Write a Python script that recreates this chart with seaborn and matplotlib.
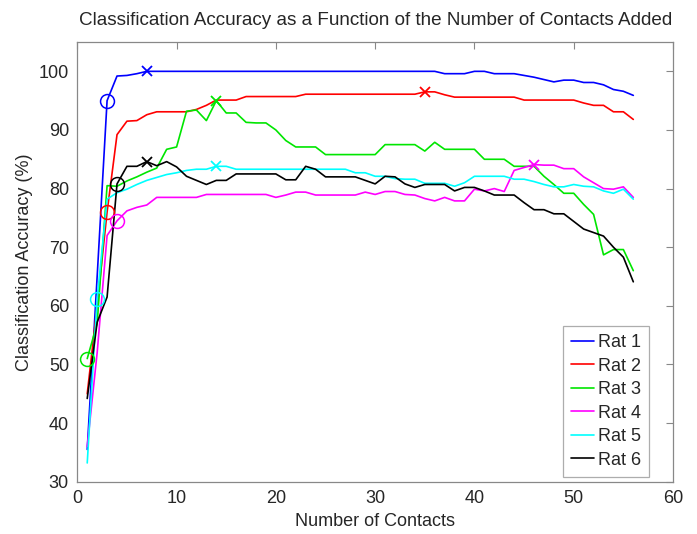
import numpy as np
import pandas as pd
import matplotlib
matplotlib.use("Agg")
import matplotlib.pyplot as plt
import seaborn as sns

# numero de contactos (1..56)
contacts = list(range(1, 57))

# precision de clasificacion (%) para cada rata
rat1 = [35.5, 65.0, 95.0, 99.2, 99.3, 99.6, 100, 100, 100, 100,
        100, 100, 100, 100, 100, 100, 100, 100, 100, 100,
        100, 100, 100, 100, 100, 100, 100, 100, 100, 100,
        100, 100, 100, 100, 100, 100, 99.6, 99.6, 99.6, 100,
        100, 99.6, 99.6, 99.6, 99.3, 99.0, 98.6, 98.2, 98.5, 98.5,
        98.1, 98.1, 97.7, 96.9, 96.6, 95.9]
rat2 = [45.0, 60.0, 76.0, 89.2, 91.5, 91.6, 92.6, 93.1, 93.1, 93.1,
        93.1, 93.5, 94.2, 95.1, 95.1, 95.1, 95.7, 95.7, 95.7, 95.7,
        95.7, 95.7, 96.1, 96.1, 96.1, 96.1, 96.1, 96.1, 96.1, 96.1,
        96.1, 96.1, 96.1, 96.1, 96.5, 96.5, 96.0, 95.6, 95.6, 95.6,
        95.6, 95.6, 95.6, 95.6, 95.1, 95.1, 95.1, 95.1, 95.1, 95.1,
        94.6, 94.2, 94.2, 93.1, 93.1, 91.8]
rat3 = [51.0, 57.0, 80.5, 80.4, 81.3, 82.0, 82.8, 83.5, 86.7, 87.1,
        93.2, 93.4, 91.6, 95.0, 92.9, 92.9, 91.3, 91.2, 91.2, 90.0,
        88.2, 87.1, 87.1, 87.1, 85.8, 85.8, 85.8, 85.8, 85.8, 85.8,
        87.5, 87.5, 87.5, 87.5, 86.4, 87.9, 86.7, 86.7, 86.7, 86.7,
        85.0, 85.0, 85.0, 83.8, 83.8, 83.8, 82.1, 80.7, 79.2, 79.2,
        77.3, 75.6, 68.7, 69.6, 69.6, 66.0]
rat4 = [36.0, 52.0, 72.0, 74.5, 76.2, 76.8, 77.2, 78.5, 78.5, 78.5,
        78.5, 78.5, 79.0, 79.0, 79.0, 79.0, 79.0, 79.0, 79.0, 78.5,
        78.9, 79.4, 79.4, 78.9, 78.9, 78.9, 78.9, 78.9, 79.4, 79.0,
        79.5, 79.5, 79.0, 78.9, 78.3, 77.9, 78.5, 77.9, 77.9, 79.9,
        79.6, 80.0, 79.5, 83.1, 83.6, 84.1, 84.0, 84.0, 83.4, 83.4,
        82.0, 81.0, 80.0, 79.9, 80.3, 78.5]
rat5 = [33.2, 61.2, 78.2, 79.3, 79.9, 80.7, 81.4, 81.9, 82.4, 82.7,
        83.1, 83.3, 83.3, 83.8, 83.8, 83.3, 83.3, 83.3, 83.3, 83.3,
        83.3, 83.3, 83.3, 83.3, 83.3, 83.3, 83.3, 82.7, 82.7, 82.1,
        82.1, 81.7, 81.6, 81.6, 80.9, 80.9, 80.9, 80.4, 81.0, 82.1,
        82.1, 82.1, 82.1, 81.6, 81.6, 81.2, 80.7, 80.3, 80.3, 80.7,
        80.4, 80.3, 79.6, 79.2, 79.9, 78.2]
rat6 = [44.2, 57.2, 61.5, 80.8, 83.8, 83.8, 84.6, 83.9, 84.6, 83.7,
        82.1, 81.4, 80.7, 81.4, 81.4, 82.5, 82.5, 82.5, 82.5, 82.5,
        81.5, 81.5, 83.8, 83.3, 82.0, 82.0, 82.0, 82.0, 81.4, 80.8,
        82.1, 82.0, 80.8, 80.2, 80.7, 80.7, 80.7, 79.6, 80.2, 80.2,
        79.6, 78.9, 78.9, 78.9, 77.6, 76.4, 76.4, 75.7, 75.7, 74.4,
        73.1, 72.5, 71.9, 70.0, 68.3, 64.1]

rat_names = ["Rat 1", "Rat 2", "Rat 3", "Rat 4", "Rat 5", "Rat 6"]
# contacto marcado con circulo y con x (maximo) en cada curva
circle_at = [3, 3, 1, 4, 2, 4]
best_at = [7, 35, 14, 46, 14, 7]

colores = ["#0000ff", "#ff0000", "#00e600", "#ff00ff", "#00ffff", "#000000"]

series = [rat1, rat2, rat3, rat4, rat5, rat6]
df = pd.concat([pd.DataFrame({"Contacts": contacts, "Accuracy": s, "Rat": n})
                for s, n in zip(series, rat_names)], ignore_index=True)

sns.set_style("white")
plt.rcParams["font.family"] = ["Liberation Sans", "DejaVu Sans"]

fig = plt.figure(figsize=(6.97, 5.34), dpi=100)
ax = fig.add_axes([0.1109, 0.0979, 0.8547, 0.8234])

sns.lineplot(data=df, x="Contacts", y="Accuracy", hue="Rat",
             palette=colores, linewidth=1.2, ax=ax)

# marcadores: circulo y x sobre cada curva
for s, c, ci, bi in zip(series, colores, circle_at, best_at):
    ax.plot(contacts[ci - 1], s[ci - 1], "o", mfc="none", mec=c, ms=10, mew=1.1)
    ax.plot(contacts[bi - 1], s[bi - 1], "x", color=c, ms=7, mew=1.3)

ax.set_xlim(0, 60)
ax.set_ylim(30, 105)
ax.set_xticks(range(0, 61, 10))
ax.set_yticks(range(30, 101, 10))
ax.tick_params(direction="in", length=5, top=True, right=True,
               labelsize=13, color="#888888", pad=6)
for sp in ax.spines.values():
    sp.set_color("#888888")
    sp.set_linewidth(0.9)

ax.set_title("Classification Accuracy as a Function of the Number of Contacts Added",
             fontsize=13.6, pad=12)
ax.set_xlabel("Number of Contacts", fontsize=13)
ax.set_ylabel("Classification Accuracy (%)", fontsize=13)

leg = ax.legend(loc="lower right", bbox_to_anchor=(0.96, 0.011), fontsize=13,
                frameon=True, fancybox=False, handlelength=1.3,
                handletextpad=0.2, labelspacing=0.36, borderpad=0.45,
                borderaxespad=0)
leg.get_frame().set_edgecolor("#999999")
leg.get_frame().set_linewidth(0.9)

fig.savefig("out.png", dpi=100)
